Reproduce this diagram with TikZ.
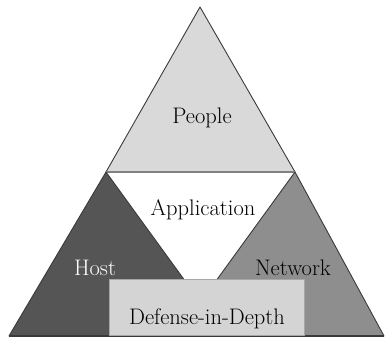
\documentclass[tikz,border=0pt]{standalone}
\definecolor{peoplegray}{HTML}{D9D9D9}
\definecolor{hostgray}{HTML}{555555}
\definecolor{netgray}{HTML}{8E8E8E}
\definecolor{boxgray}{HTML}{D4D4D4}
\definecolor{edgegray}{HTML}{3A3A3A}
\tikzset{
    layer/.style={draw=edgegray, line width=0.9pt, line join=round},
    lbl/.style={font=\fontsize{22.5}{26}\selectfont, inner sep=0pt}
}

\begin{document}
\begin{tikzpicture}[x=1pt,y=-1pt]
    \useasboundingbox (0,0) rectangle (385,339);
    %people
    \filldraw [layer, fill=peoplegray] (200,7) -- (295,172) -- (106,172) -- cycle;
    \draw [draw=gray, line width=1.8pt] (106,172) -- (295,172);
    %host
    \filldraw [layer, fill=hostgray] (106,172) -- (225,336) -- (9,336) -- cycle;
    %network
    \filldraw [layer, fill=netgray] (295,172) -- (384,336) -- (176,336) -- cycle;
    \draw [draw=edgegray, line width=1.2pt] (9,336) -- (384,336);
    %box
    \node [lbl, fill=boxgray, draw=gray!70, line width=0.6pt, minimum width=195pt, minimum height=56pt, anchor=north] (did) at (206.5,279) {};
    \node [lbl] (didtext) at (207,319) {Defense-in-Depth};
    %labels
    \node [lbl] (people) at (202,118) {People};
    \node [lbl] (app) at (203,210) {Application};
    \node [lbl, text=white] (host) at (95,268) {Host};
    \node [lbl] (net) at (293,268) {Network};
\end{tikzpicture}
\end{document}
